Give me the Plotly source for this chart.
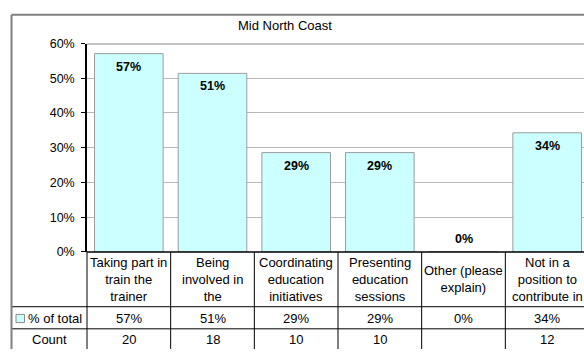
import plotly.graph_objects as go

# Survey responses, Mid North Coast
categories = [
    "Taking part in train the trainer",
    "Being involved in the",
    "Coordinating education initiatives",
    "Presenting education sessions",
    "Other (please explain)",
    "Not in a position to contribute in",
]
# wrapped text shown in the data-table header row
category_lines = [
    ["Taking part in", "train the", "trainer"],
    ["Being", "involved in", "the"],
    ["Coordinating", "education", "initiatives"],
    ["Presenting", "education", "sessions"],
    ["Other (please", "explain)"],
    ["Not in a", "position to", "contribute in"],
]
share = [0.571, 0.514, 0.286, 0.286, 0.0, 0.343]
counts = [20, 18, 10, 10, None, 12]
y_ticks = [0.0, 0.1, 0.2, 0.3, 0.4, 0.5, 0.6]

W, H = 584, 356
FONT = "Arial, Liberation Sans, sans-serif"
FILL = "#CCFFFF"
TXT = 13


def px(x):
    return x / W


def py(y):
    return 1 - y / H


fig = go.Figure()
fig.add_trace(go.Bar(
    x=list(range(len(categories))),
    y=share,
    width=0.82,
    marker=dict(color=FILL, line=dict(color="#9c9c9c", width=1)),
    hoverinfo="skip",
    showlegend=False,
))

annotations = []
shapes = []

# value labels inside the top of each bar
for i, v in enumerate(share):
    annotations.append(dict(
        x=i, y=v, xref="x", yref="y", text=f"<b>{v:.0%}</b>",
        showarrow=False, yanchor="middle", yshift=-13 if v > 0.05 else 13,
        font=dict(family=FONT, size=12.5, color="black"),
    ))

# chart title
annotations.append(dict(
    x=px(285), y=py(19), xref="paper", yref="paper", text="Mid North Coast",
    showarrow=False, xanchor="center", yanchor="middle",
    font=dict(family=FONT, size=TXT, color="black"),
))

# data table: header row, percentage row, count row
row_header_y, row_pct_y, row_cnt_y = 283.5, 324.5, 346.5
for i, lines in enumerate(category_lines):
    annotations.append(dict(
        x=i, y=py(row_header_y), xref="x", yref="paper", text="<br>".join(lines),
        showarrow=False, xanchor="center", yanchor="middle",
        font=dict(family=FONT, size=TXT, color="black"),
    ))
    annotations.append(dict(
        x=i, y=py(row_pct_y), xref="x", yref="paper", text=f"{share[i]:.0%}",
        showarrow=False, xanchor="center", yanchor="middle",
        font=dict(family=FONT, size=TXT, color="black"),
    ))
    if counts[i] is not None:
        annotations.append(dict(
            x=i, y=py(row_cnt_y), xref="x", yref="paper", text=str(counts[i]),
            showarrow=False, xanchor="center", yanchor="middle",
            font=dict(family=FONT, size=TXT, color="black"),
        ))

annotations.append(dict(
    x=px(26), y=py(row_pct_y), xref="paper", yref="paper", text="% of total",
    showarrow=False, xanchor="left", yanchor="middle",
    font=dict(family=FONT, size=TXT, color="black"),
))
annotations.append(dict(
    x=px(49.5), y=py(row_cnt_y), xref="paper", yref="paper", text="Count",
    showarrow=False, xanchor="center", yanchor="middle",
    font=dict(family=FONT, size=TXT, color="black"),
))

# legend key in the row header
shapes.append(dict(type="rect", xref="paper", yref="paper",
                   x0=px(16), x1=px(24.5), y0=py(328.5), y1=py(320),
                   fillcolor=FILL, line=dict(color="#8c8c8c", width=1)))

black = dict(color="black", width=1)
# table grid: horizontal rules
for yy in (312, 335):
    shapes.append(dict(type="line", xref="paper", yref="paper",
                       x0=px(12), x1=1, y0=py(yy), y1=py(yy), line=black))
# table top / category axis line
shapes.append(dict(type="line", xref="paper", yref="paper",
                   x0=px(87), x1=1, y0=py(255), y1=py(255),
                   line=dict(color="black", width=1.5)))
# row-header divider continuing the value axis
shapes.append(dict(type="line", xref="paper", yref="paper",
                   x0=px(87), x1=px(87), y0=py(255), y1=0, line=black))
# column dividers between categories
for i in range(len(categories) - 1):
    shapes.append(dict(type="line", xref="x", yref="paper",
                       x0=i + 0.5, x1=i + 0.5, y0=py(255), y1=0, line=black))

# darker top border of the plot area
shapes.append(dict(type="line", xref="paper", yref="y",
                   x0=px(87), x1=1, y0=0.6, y1=0.6,
                   line=dict(color="#8a8a8a", width=2), layer="below"))

# chart frame
frame = dict(color="#7f7f7f", width=2)
shapes.append(dict(type="line", xref="paper", yref="paper",
                   x0=px(11.5), x1=1, y0=py(8), y1=py(8), line=frame))
shapes.append(dict(type="line", xref="paper", yref="paper",
                   x0=px(11.5), x1=px(11.5), y0=py(8), y1=0, line=frame))

fig.update_layout(
    width=W, height=H,
    margin=dict(l=0, r=0, t=0, b=0),
    paper_bgcolor="white", plot_bgcolor="white",
    font=dict(family=FONT, size=12.5, color="black"),
    xaxis=dict(
        domain=[px(87), 1], range=[-0.5, 5.5 - 5 / 83.6],
        showticklabels=False, showgrid=False, zeroline=False,
        showline=False, ticks="", fixedrange=True,
    ),
    yaxis=dict(
        domain=[py(255), py(38)], range=[0, 0.6],
        tickvals=y_ticks, tickformat=".0%",
        showgrid=True, gridcolor="#b8b8b8", gridwidth=1,
        zeroline=False, showline=True, linecolor="black", linewidth=1.5,
        ticks="outside", ticklen=4, tickcolor="black", tickwidth=1,
        ticklabelstandoff=4,
        tickfont=dict(family=FONT, size=12.5, color="black"),
        fixedrange=True,
    ),
    annotations=annotations,
    shapes=shapes,
)

fig.write_html("out.html")
